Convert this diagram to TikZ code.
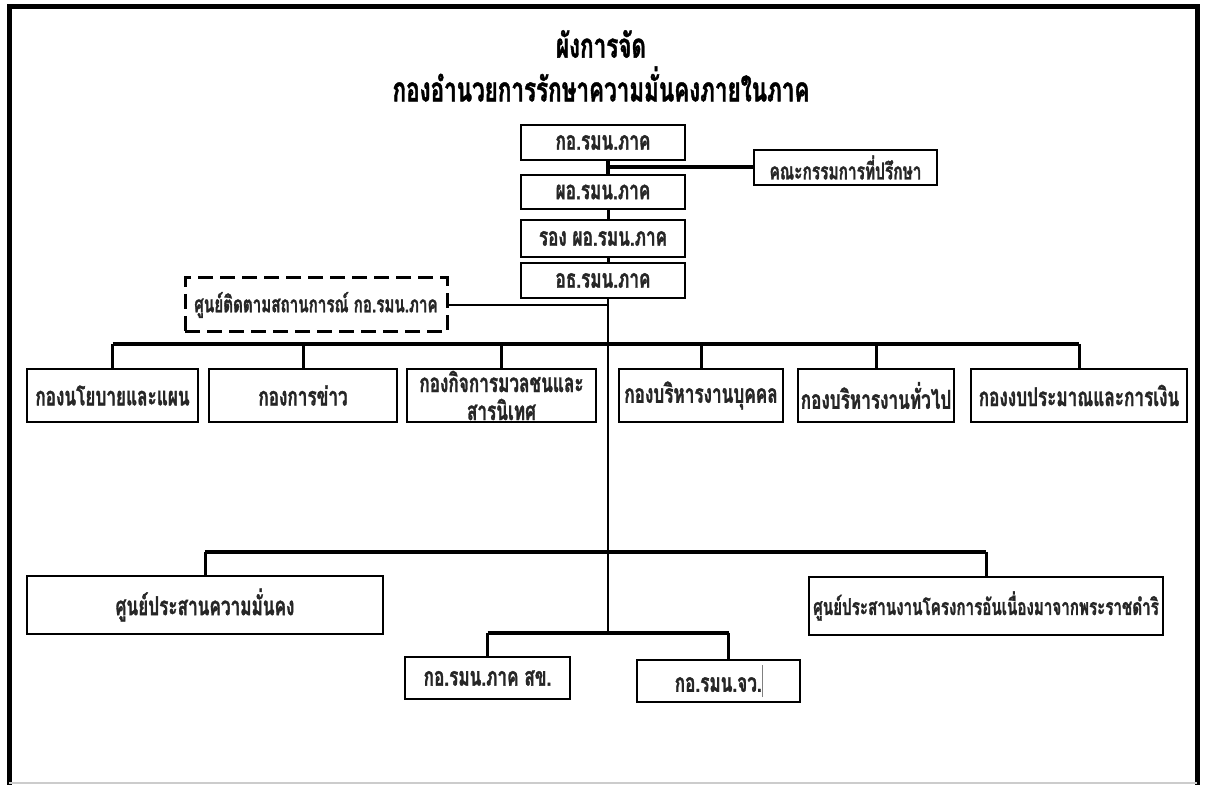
\documentclass[tikz,border=0pt]{standalone}
\usepackage{fontspec}
\newfontfamily\thaifont[Script=Thai,FakeStretch=0.66,BoldFeatures={FakeBold=1.2}]{Loma}
\usetikzlibrary{calc}

\begin{document}
\begin{tikzpicture}[x=0.5pt, y=-0.5pt,
  box/.style={draw, line width=1.3pt, inner sep=0pt, text=black!85,
    font=\thaifont\bfseries\fontsize{13}{14}\selectfont},
  bar/.style={line width=2.3pt},
  drop/.style={line width=1.5pt},
  spineline/.style={line width=0.8pt}]
      \useasboundingbox (0,0) rectangle (1205,785);

      % frame
      \draw [line width=2.5pt] (9,790) -- (9,7) -- (1197,7) -- (1197,790);
      \draw [gray!40, line width=0.8pt] (9,783) -- (1197,783);

      % title
      \node [name=title1, font=\thaifont\bfseries\fontsize{17}{18}\selectfont] at (601,44) {ผังการจัด};
      \node [name=title2, font=\thaifont\bfseries\fontsize{17}{18}\selectfont] at (601,84)
      {กองอำนวยการรักษาความมั่นคงภายในภาค};

      \coordinate (spine) at (608,0);

      % command chain
      \node [box, name=kor, minimum width=82pt, minimum height=17.5pt] at (603,142.5) {กอ.รมน.ภาค};
      \node [box, name=phor, minimum width=82pt, minimum height=17pt] at (603,192) {ผอ.รมน.ภาค};
      \node [box, name=rong, minimum width=82pt, minimum height=18.5pt] at (603,238.5) {รอง ผอ.รมน.ภาค};
      \node [box, name=athor, minimum width=82pt, minimum height=17.5pt] at (603,280.5) {อธ.รมน.ภาค};
      \node [box, name=advisor, minimum width=91.5pt, minimum height=17.5pt,
      font=\thaifont\bfseries\fontsize{11.7}{13}\selectfont] at (845.5,167.5) {คณะกรรมการที่ปรึกษา};
      \node [box, dash pattern=on 7.5pt off 3.5pt, line width=1.5pt, name=monitor, minimum width=131pt,
      minimum height=27pt, font=\thaifont\bfseries\fontsize{11.5}{13}\selectfont] at (316,305)
      {ศูนย์ติดตามสถานการณ์ กอ.รมน.ภาค};

      \draw [line width=1.8pt] (kor.south -| spine) -- (phor.north -| spine);
      \draw [line width=2pt] (spine |- advisor.west) -- (advisor.west);
      \draw [drop] (phor.south -| spine) -- (rong.north -| spine);
      \draw [drop] (rong.south -| spine) -- (athor.north -| spine);
      \draw [line width=1.3pt] (monitor.east) -- (spine |- monitor.east);

      % divisions
      \node [box, name=d1, minimum width=85.5pt, minimum height=26.5pt] at (112.5,395.5) {กองนโยบายและแผน};
      \node [box, name=d2, minimum width=94pt, minimum height=26.5pt] at (303,395.5) {กองการข่าว};
      \node [box, name=d3, minimum width=94.5pt, minimum height=26.5pt, align=center] at (501.5,395.5)
      {กองกิจการมวลชนและ\\สารนิเทศ};
      \node [box, name=d4, minimum width=82pt, minimum height=26.5pt] at (701,395.5) {กองบริหารงานบุคคล};
      \node [box, name=d5, minimum width=78pt, minimum height=26.5pt] at (876,395.5) {กองบริหารงานทั่วไป};
      \node [box, name=d6, minimum width=108pt, minimum height=26.5pt] at (1079,395.5)
      {กองงบประมาณและการเงิน};

      \coordinate (row) at (0,344);
      \draw [bar] (d1.north |- row) -- (d6.north |- row);
      \foreach \i in {1,...,6}
        \draw [drop] (d\i.north |- row) -- (d\i.north);

      % centres
      \node [box, name=centre1, minimum width=178pt, minimum height=29pt] at (205,605)
      {ศูนย์ประสานความมั่นคง};
      \node [box, name=centre2, minimum width=177pt, minimum height=29pt,
      font=\thaifont\bfseries\fontsize{11.5}{13}\selectfont] at (986,606)
      {ศูนย์ประสานงานโครงการอันเนื่องมาจากพระราชดำริ};

      \coordinate (mid) at (0,552);
      \draw [bar] (centre1.north |- mid) -- (centre2.north |- mid);
      \draw [drop] (centre1.north |- mid) -- (centre1.north);
      \draw [drop] (centre2.north |- mid) -- (centre2.north);

      % provinces
      \node [box, name=sub1, minimum width=82.5pt, minimum height=21pt] at (487.5,678) {กอ.รมน.ภาค สข.};
      \node [box, name=sub2, minimum width=81.5pt, minimum height=21pt] at (718.5,681)
      {กอ.รมน.จว.\textcolor{gray}{\rule[-0.4ex]{0.3pt}{2.4ex}}};

      \coordinate (low) at (0,633);
      \draw [bar] (sub1.north |- low) -- ([xshift=5pt]sub2.north |- low);
      \draw [drop] (sub1.north |- low) -- (sub1.north);
      \draw [drop] ([xshift=5pt]sub2.north |- low) -- ([xshift=5pt]sub2.north);

      \draw [spineline] (athor.south -| spine) -- (spine |- low);
\end{tikzpicture}
\end{document}
